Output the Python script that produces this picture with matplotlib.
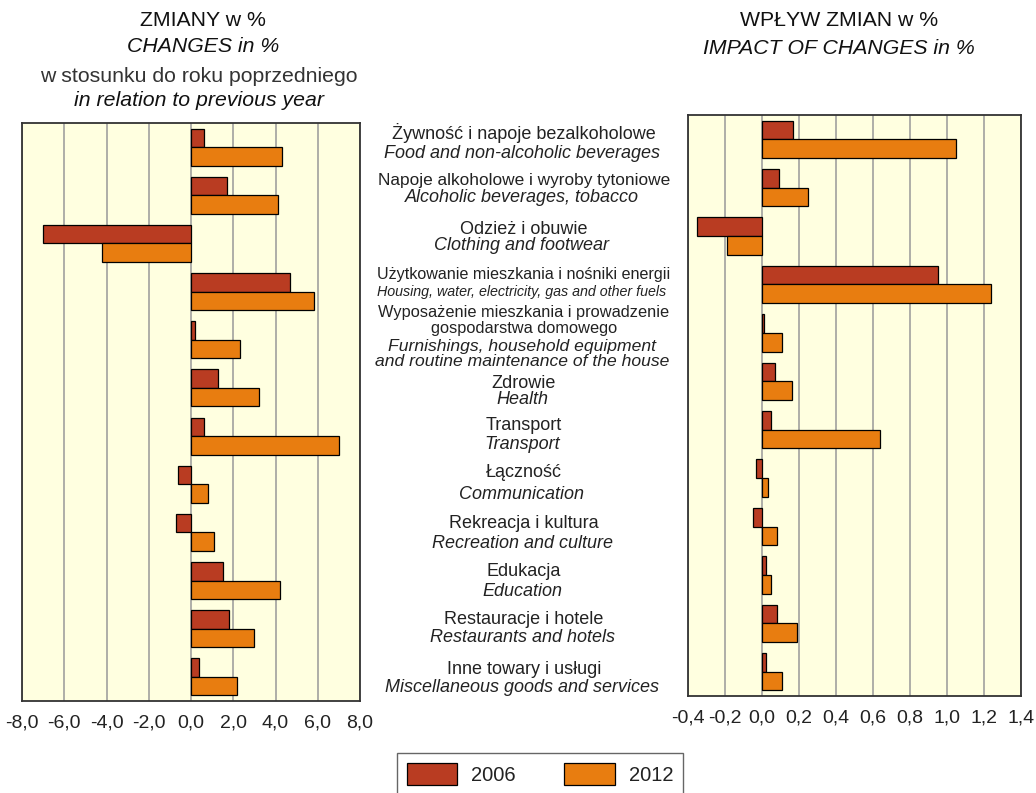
import numpy as np
import matplotlib
matplotlib.use("Agg")
import matplotlib.pyplot as plt
from matplotlib.patches import Patch

plt.rcParams['font.family'] = ['Liberation Sans', 'DejaVu Sans']

# ----------------------------
# Data
# ----------------------------
labels_pl = [
    "Żywność i napoje bezalkoholowe",
    "Napoje alkoholowe i wyroby tytoniowe",
    "Odzież i obuwie",
    "Użytkowanie mieszkania i nośniki energii",
    "Wyposażenie mieszkania i prowadzenie\ngospodarstwa domowego",
    "Zdrowie",
    "Transport",
    "Łączność",
    "Rekreacja i kultura",
    "Edukacja",
    "Restauracje i hotele",
    "Inne towary i usługi",
]
labels_en = [
    "Food and non-alcoholic beverages",
    "Alcoholic beverages, tobacco",
    "Clothing and footwear",
    "Housing, water, electricity, gas and other fuels",
    "Furnishings, household equipment\nand routine maintenance of the house",
    "Health",
    "Transport",
    "Communication",
    "Recreation and culture",
    "Education",
    "Restaurants and hotels",
    "Miscellaneous goods and services",
]

change_2006 = [0.6, 1.7, -7.0, 4.7, 0.2, 1.3, 0.6, -0.6, -0.7, 1.5, 1.8, 0.4]
change_2012 = [4.3, 4.1, -4.2, 5.8, 2.3, 3.2, 7.0, 0.8, 1.1, 4.2, 3.0, 2.2]

impact_2006 = [0.17, 0.09, -0.35, 0.95, 0.01, 0.07, 0.05, -0.03, -0.05, 0.02, 0.08, 0.02]
impact_2012 = [1.05, 0.25, -0.19, 1.24, 0.11, 0.16, 0.64, 0.03, 0.08, 0.05, 0.19, 0.11]

left_ticks = [-8, -6, -4, -2, 0, 2, 4, 6, 8]
right_ticks = [-0.4, -0.2, 0.0, 0.2, 0.4, 0.6, 0.8, 1.0, 1.2, 1.4]

c2006 = "#B93C22"
c2012 = "#E87D10"
bg = "#FFFFE0"

W, H = 1036, 793
fig = plt.figure(figsize=(W / 100, H / 100), dpi=100)


def px_box(x0, y0, x1, y1):
    return [x0 / W, 1 - y1 / H, (x1 - x0) / W, (y1 - y0) / H]


def draw_panel(ax, v06, v12, ticks, lim):
    y = np.arange(len(v06))
    h = 0.385
    ax.set_facecolor(bg)
    ax.barh(y - h / 2, v06, height=h, color=c2006, edgecolor="black", linewidth=0.9, zorder=3)
    ax.barh(y + h / 2, v12, height=h, color=c2012, edgecolor="black", linewidth=0.9, zorder=3)
    ax.set_ylim(len(v06) - 0.5, -0.5)
    ax.set_xlim(*lim)
    ax.set_yticks([])
    ax.set_xticks(ticks)
    ax.set_xticklabels([f"{t:.1f}".replace(".", ",") for t in ticks])
    ax.tick_params(axis="x", length=0, pad=10, labelsize=14, colors="#222222")
    ax.grid(axis="x", color="#999999", linewidth=1.1, zorder=1)
    for s in ax.spines.values():
        s.set_color("#333333")
        s.set_linewidth(1.3)


ax1 = fig.add_axes(px_box(22, 123, 360, 701))
draw_panel(ax1, change_2006, change_2012, left_ticks, (-8, 8))

ax2 = fig.add_axes(px_box(688, 115, 1021, 696))
draw_panel(ax2, impact_2006, impact_2012, right_ticks, (-0.4, 1.4))

# ----------------------------
# Titles
# ----------------------------
tc = "#111111"
fig.text(203 / W, 1 - 21 / H, "ZMIANY w %", ha="center", va="center", fontsize=15.3, color=tc)
fig.text(203 / W, 1 - 46 / H, "CHANGES in %", ha="center", va="center", fontsize=15.3, style="italic", color=tc)
fig.text(199 / W, 1 - 77 / H, "w stosunku do roku poprzedniego", ha="center", va="center", fontsize=15.3, color="#333333")
fig.text(199 / W, 1 - 100 / H, "in relation to previous year", ha="center", va="center", fontsize=15.3, style="italic", color=tc)
fig.text(839 / W, 1 - 21 / H, "WPŁYW ZMIAN w %", ha="center", va="center", fontsize=15.3, color=tc)
fig.text(839 / W, 1 - 49 / H, "IMPACT OF CHANGES in %", ha="center", va="center", fontsize=15.3, style="italic", color=tc)

# ----------------------------
# Category labels (centre column)
# ----------------------------
pl_y = [133, 180, 230, 275, 313, 384, 425, 473, 523, 572, 620, 670]
en_y = [153, 198, 245, 292, 346, 400, 445, 495, 543, 592, 638, 688]
pl_fs = [13, 12.4, 13, 11.6, 11.8, 13, 13, 13, 13, 13, 13, 13]
en_fs = [13, 13, 13, 10.3, 12.6, 13, 13, 13, 13, 13, 13, 13]
for i in range(len(labels_pl)):
    for k, line in enumerate(labels_pl[i].split("\n")):
        fig.text(524 / W, 1 - (pl_y[i] + 15 * k) / H, line, ha="center", va="center",
                 fontsize=pl_fs[i], color="#222222")
    for k, line in enumerate(labels_en[i].split("\n")):
        fig.text(522 / W, 1 - (en_y[i] + 16 * k) / H, line, ha="center", va="center",
                 fontsize=en_fs[i], style="italic", color="#222222")

# ----------------------------
# Legend
# ----------------------------
handles = [Patch(facecolor=c2006, edgecolor="black", linewidth=0.9),
           Patch(facecolor=c2012, edgecolor="black", linewidth=0.9)]
leg = fig.legend(handles, ["2006", "2012"], loc="upper center", ncol=2,
                 bbox_to_anchor=(540 / W, 1 - 753 / H), fontsize=14.5,
                 handlelength=2.5, handleheight=1.3, handletextpad=0.7,
                 columnspacing=2.4, borderpad=0.5, borderaxespad=0, fancybox=False,
                 edgecolor="#666666", framealpha=1)
leg.get_frame().set_linewidth(1.0)
for t in leg.get_texts():
    t.set_color("#222222")

fig.savefig("out.png", dpi=100)
